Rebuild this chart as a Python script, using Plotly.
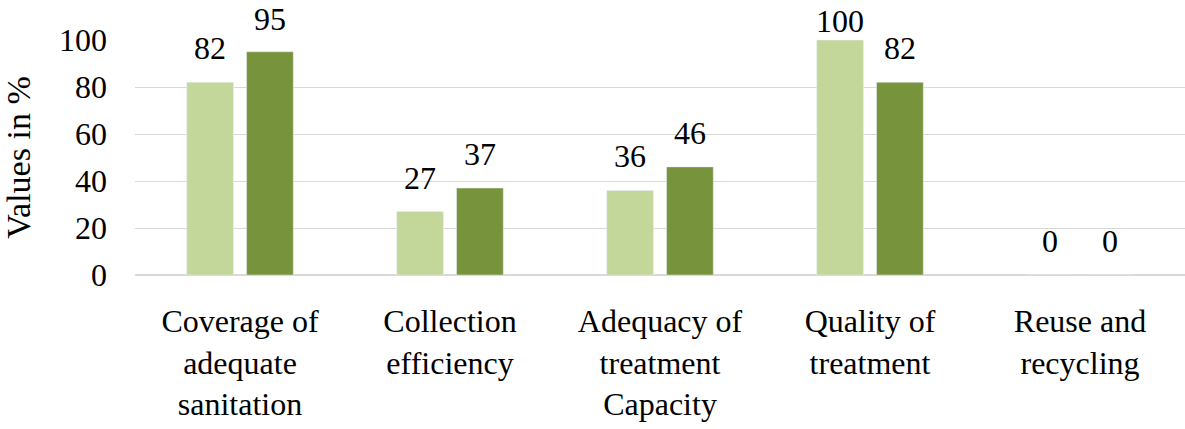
import plotly.graph_objects as go

categories = ["Coverage of<br>adequate<br>sanitation", "Collection<br>efficiency",
              "Adequacy of<br>treatment<br>Capacity", "Quality of<br>treatment",
              "Reuse and<br>recycling"]
series_a = [82, 27, 36, 100, 0]
series_b = [95, 37, 46, 82, 0]
tick_vals = [0, 20, 40, 60, 80, 100]

# label vertical offsets (px), style only
shift_a = [14, 14, 14, -1, 14]
shift_b = [13, 14, 14, 14, 14]

FONT = "Liberation Serif"
SIZE = 32
fig = go.Figure()
fig.add_trace(go.Bar(x=categories, y=series_a, marker_color="#C4D79B", cliponaxis=False))
fig.add_trace(go.Bar(x=categories, y=series_b, marker_color="#77933C", cliponaxis=False))

for vals, shifts, dx in ((series_a, shift_a, -30), (series_b, shift_b, 30)):
    for c, v, s in zip(categories, vals, shifts):
        fig.add_annotation(x=c, y=v, text=str(v), showarrow=False, xshift=dx, yshift=s,
                           yanchor="bottom", font=dict(family=FONT, size=SIZE, color="black"))

fig.update_layout(
    width=1185, height=429, margin=dict(l=135, r=0, t=40, b=154),
    plot_bgcolor="white", paper_bgcolor="white", showlegend=False,
    barmode="group", bargap=0.43, bargroupgap=0.22,
    font=dict(family=FONT, size=SIZE, color="black"),
)
fig.update_yaxes(range=[0, 100], tickvals=tick_vals, showgrid=True, gridcolor="#D9D9D9",
                 gridwidth=1, zeroline=True, zerolinecolor="#D9D9D9", ticklabelstandoff=27,
                 tickfont=dict(size=SIZE),
                 title=dict(text="Values in %", standoff=19, font=dict(size=34)))
fig.update_xaxes(showline=False, ticklabelstandoff=24, tickfont=dict(size=32))
fig.write_html("out.html")
